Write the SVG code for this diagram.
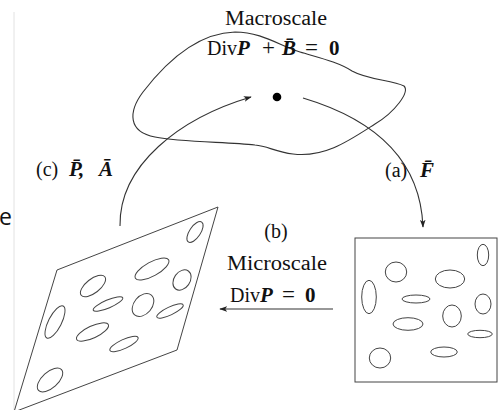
<svg xmlns="http://www.w3.org/2000/svg" width="498" height="410" viewBox="0 0 498 410">
  <defs>
    <style>
      .t { font-family: "Liberation Serif", "DejaVu Serif", serif; font-size: 20px; fill: #111; }
      .v { font-weight: bold; font-style: italic; font-size: 21px; }
      .b { font-weight: bold; font-size: 21px; }
      .op { font-size: 23px; }
      .ln { fill: none; stroke: #333; stroke-width: 1.1; }
      .inc { fill: none; stroke: #444; stroke-width: 1; }
    </style>
    <marker id="ah" viewBox="0 0 10 10" refX="9" refY="5" markerWidth="8" markerHeight="8" markerUnits="userSpaceOnUse" orient="auto">
      <path d="M0,1.5 L10,5 L0,8.5 L2.5,5 Z" fill="#222"/>
    </marker>
  </defs>
  <rect width="498" height="410" fill="#fff"/>

  <!-- page edge and stray glyph on the left margin -->
  <line x1="14" y1="12" x2="14" y2="410" stroke="#e2e2e2" stroke-width="1"/>
  <text x="-1" y="225" font-family="'Open Sans', 'DejaVu Sans', sans-serif" font-size="23" fill="#111">e</text>

  <!-- macroscale body -->
  <g id="macro-body">
    <path class="ln" d="M235,32 C262,32 280,46 300,52 C320,58 338,62 352,71 C368,80 392,80 404,86 C410,92 395,112 375,124 C350,140 325,158 293,154 C275,152 268,146 255,145 C225,142 180,142 155,137 C128,132 128,112 143,92 C163,66 195,33 235,32 Z"/>
    <circle cx="277" cy="97" r="4.3" fill="#000"/>
    <text class="t" x="276" y="25" text-anchor="middle" textLength="102" lengthAdjust="spacingAndGlyphs">Macroscale</text>
    <text class="t" x="207" y="55">Div<tspan class="v">P</tspan><tspan class="op" x="262">+</tspan><tspan class="v" x="282">B&#x0304;</tspan><tspan class="op" x="305">=</tspan><tspan class="b" x="329">0</tspan></text>
  </g>

  <!-- deformed microstructure cell -->
  <g id="micro-deformed">
    <path class="inc" d="M218,207 L57,270 L14,412 L177,350 Z"/>
    <ellipse class="inc" cx="195" cy="232" rx="12" ry="5.5" transform="rotate(-56 195 232)"/>
    <ellipse class="inc" cx="152" cy="269" rx="19" ry="7" transform="rotate(-29 152 269)"/>
    <ellipse class="inc" cx="182" cy="280" rx="11" ry="8" transform="rotate(-55 182 280)"/>
    <ellipse class="inc" cx="93" cy="286" rx="15" ry="7" transform="rotate(-38 93 286)"/>
    <ellipse class="inc" cx="108" cy="304" rx="16" ry="4" transform="rotate(-23 108 304)"/>
    <ellipse class="inc" cx="143" cy="305" rx="13" ry="9" transform="rotate(-50 143 305)"/>
    <ellipse class="inc" cx="170" cy="311" rx="14.5" ry="4" transform="rotate(-25 170 311)"/>
    <ellipse class="inc" cx="55" cy="322" rx="18" ry="6.5" transform="rotate(-63 55 322)"/>
    <ellipse class="inc" cx="92.5" cy="332" rx="17.5" ry="6" transform="rotate(-25 92.5 332)"/>
    <ellipse class="inc" cx="124" cy="344" rx="15.5" ry="4.5" transform="rotate(-25 124 344)"/>
    <ellipse class="inc" cx="50" cy="380" rx="15.5" ry="8" transform="rotate(-42 50 380)"/>
  </g>

  <!-- reference microstructure cell -->
  <g id="micro-reference">
    <rect class="inc" x="355" y="238" width="142" height="144"/>
    <ellipse class="inc" cx="483" cy="255" rx="5.7" ry="10.7"/>
    <ellipse class="inc" cx="396" cy="272" rx="10.7" ry="10"/>
    <ellipse class="inc" cx="450" cy="279" rx="14.7" ry="9"/>
    <ellipse class="inc" cx="369" cy="297" rx="7.3" ry="16.7"/>
    <ellipse class="inc" cx="416" cy="299" rx="14" ry="4"/>
    <ellipse class="inc" cx="483" cy="304" rx="8" ry="10"/>
    <ellipse class="inc" cx="452" cy="316" rx="9.3" ry="11"/>
    <ellipse class="inc" cx="408" cy="324" rx="15" ry="6.3"/>
    <ellipse class="inc" cx="480" cy="334" rx="12.3" ry="3.7"/>
    <ellipse class="inc" cx="444" cy="352" rx="13.3" ry="5"/>
    <ellipse class="inc" cx="380" cy="358" rx="10.7" ry="10"/>
  </g>

  <!-- scale-transition arrows -->
  <g id="connectors">
    <path class="ln" d="M303,98 C360,115 420,150 423,227" marker-end="url(#ah)"/>
    <path class="ln" d="M120,226 C119,165 180,118 251,97" marker-end="url(#ah)"/>
    <path class="ln" d="M333,309 L220,309" marker-end="url(#ah)"/>
  </g>

  <!-- step labels -->
  <g id="label-a">
    <text class="t" x="385" y="177">(a)<tspan class="v" x="420">F&#x0304;</tspan></text>
  </g>
  <g id="label-b">
    <text class="t" x="276" y="238" text-anchor="middle">(b)</text>
    <text class="t" x="277" y="270" text-anchor="middle" textLength="100" lengthAdjust="spacingAndGlyphs">Microscale</text>
    <text class="t" x="230" y="302">Div<tspan class="v">P</tspan><tspan class="op" x="282">=</tspan><tspan class="b" x="305">0</tspan></text>
  </g>
  <g id="label-c">
    <text class="t" x="36" y="176">(c)<tspan class="v" x="69">P&#x0304;,</tspan><tspan class="v" x="99">A&#x0304;</tspan></text>
  </g>
</svg>
